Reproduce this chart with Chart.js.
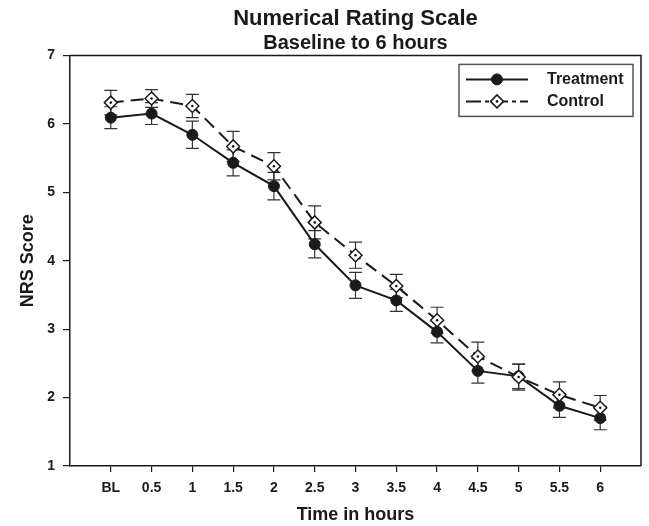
<!DOCTYPE html>
<html><head><meta charset="utf-8">
<script src="https://cdn.jsdelivr.net/npm/chart.js@4/dist/chart.umd.min.js"></script>
<style>html,body{margin:0;padding:0;background:#fff;}canvas{display:block;}</style>
</head><body>
<canvas id="c" width="649" height="526"></canvas>
<script>
const categories = ['BL','0.5','1','1.5','2','2.5','3','3.5','4','4.5','5','5.5','6'];
const treatment    = [6.09, 6.15, 5.84, 5.43, 5.09, 4.24, 3.64, 3.42, 2.96, 2.39, 2.31, 1.88, 1.70];
const treatmentErr = [0.16, 0.16, 0.20, 0.19, 0.20, 0.20, 0.19, 0.16, 0.16, 0.18, 0.18, 0.17, 0.17];
const control      = [6.31, 6.37, 6.26, 5.67, 5.38, 4.56, 4.08, 3.63, 3.13, 2.60, 2.30, 2.04, 1.85];
const controlErr   = [0.18, 0.13, 0.17, 0.22, 0.20, 0.24, 0.19, 0.17, 0.19, 0.21, 0.19, 0.19, 0.18];
const yTicks = [1, 2, 3, 4, 5, 6, 7];

const ink = '#1a1a1a';
Chart.defaults.font.family = "'Liberation Sans', Arial, Helvetica, sans-serif";
Chart.defaults.color = ink;

const errorBars = {
  id: 'errorBars',
  beforeDatasetsDraw(chart) {
    const {ctx, scales: {x, y}} = chart;
    ctx.save();
    ctx.strokeStyle = '#333';
    ctx.lineWidth = 1.2;
    chart.data.datasets.forEach(ds => {
      ds.data.forEach((p, i) => {
        const e = ds.errors[i];
        const px = x.getPixelForValue(p.x);
        const t = y.getPixelForValue(p.y + e);
        const b = y.getPixelForValue(p.y - e);
        ctx.beginPath();
        ctx.moveTo(px, t); ctx.lineTo(px, b);
        ctx.moveTo(px - 6.5, t); ctx.lineTo(px + 6.5, t);
        ctx.moveTo(px - 6.5, b); ctx.lineTo(px + 6.5, b);
        ctx.stroke();
      });
    });
    ctx.restore();
  }
};

const decorations = {
  id: 'decorations',
  afterDatasetsDraw(chart) {
    const {ctx} = chart;
    // center dots of diamond markers
    chart.data.datasets.forEach((ds, di) => {
      if (!ds.centerDot) return;
      const meta = chart.getDatasetMeta(di);
      ctx.save();
      ctx.fillStyle = ink;
      meta.data.forEach(el => {
        ctx.beginPath();
        ctx.arc(el.x, el.y, 1.3, 0, Math.PI * 2);
        ctx.fill();
      });
      ctx.restore();
    });
  },
  afterDraw(chart) {
    const {ctx, chartArea: a} = chart;
    ctx.save();
    // frame top & right
    ctx.strokeStyle = ink;
    ctx.lineWidth = 1.5;
    ctx.beginPath();
    ctx.moveTo(a.left, a.top); ctx.lineTo(a.right, a.top); ctx.lineTo(a.right, a.bottom);
    ctx.stroke();
    // legend
    const bw = 174, bh = 52;
    const bx = a.right - 8 - bw, by = a.top + 9;
    ctx.strokeStyle = '#555';
    ctx.lineWidth = 1.5;
    ctx.strokeRect(bx, by, bw, bh);
    const rows = [by + 15, by + 37];
    chart.data.datasets.forEach((ds, i) => {
      const yy = rows[i];
      const x0 = bx + 7, x1 = bx + 69, xm = bx + 38;
      ctx.strokeStyle = ds.borderColor;
      ctx.lineWidth = ds.borderWidth;
      ctx.setLineDash(ds.legendDash || []);
      ctx.beginPath();
      ctx.moveTo(x0, yy); ctx.lineTo(x1, yy);
      ctx.stroke();
      ctx.setLineDash([]);
      ctx.fillStyle = ds.pointBackgroundColor;
      ctx.strokeStyle = ds.pointBorderColor;
      ctx.lineWidth = ds.pointBorderWidth;
      ctx.beginPath();
      if (ds.pointStyle === 'rectRot') {
        const r = ds.pointRadius;
        ctx.moveTo(xm - r, yy); ctx.lineTo(xm, yy - r); ctx.lineTo(xm + r, yy); ctx.lineTo(xm, yy + r);
        ctx.closePath();
      } else {
        ctx.arc(xm, yy, ds.pointRadius, 0, Math.PI * 2);
      }
      ctx.fill(); ctx.stroke();
      if (ds.centerDot) {
        ctx.fillStyle = ink;
        ctx.beginPath(); ctx.arc(xm, yy, 1.3, 0, Math.PI * 2); ctx.fill();
      }
      ctx.fillStyle = ink;
      ctx.font = "bold 16px 'Liberation Sans', Arial, sans-serif";
      ctx.textBaseline = 'middle';
      ctx.textAlign = 'left';
      ctx.fillText(ds.label, bx + 88, yy);
    });
    ctx.restore();
  }
};

new Chart(document.getElementById('c'), {
  type: 'line',
  data: {
    datasets: [
      {
        label: 'Treatment',
        data: treatment.map((v, i) => ({x: i, y: v})),
        errors: treatmentErr,
        borderColor: ink,
        borderWidth: 2,
        pointStyle: 'circle',
        pointRadius: 5.5,
        pointBackgroundColor: ink,
        pointBorderColor: ink,
        pointBorderWidth: 1,
        tension: 0,
        order: 2
      },
      {
        label: 'Control',
        data: control.map((v, i) => ({x: i, y: v})),
        errors: controlErr,
        borderColor: ink,
        borderWidth: 2,
        borderDash: [13, 7],
        legendDash: [15, 4, 4, 4],
        pointStyle: 'rectRot',
        pointRadius: 6.5,
        pointBackgroundColor: '#fff',
        pointBorderColor: ink,
        pointBorderWidth: 1.5,
        centerDot: true,
        tension: 0,
        order: 1
      }
    ]
  },
  options: {
    responsive: false,
    animation: false,
    devicePixelRatio: 1,
    layout: {padding: {top: 0, left: 0, right: 8, bottom: 0}},
    plugins: {
      legend: {display: false},
      tooltip: {enabled: false},
      title: {
        display: true, text: 'Numerical Rating Scale', fullSize: false,
        font: {size: 22, weight: 'bold', lineHeight: 1.2}, color: ink,
        padding: {top: 6, bottom: 0}
      },
      subtitle: {
        display: true, text: 'Baseline to 6 hours', fullSize: false,
        font: {size: 20, weight: 'bold', lineHeight: 1.1}, color: ink,
        padding: {top: 0, bottom: 1}
      }
    },
    scales: {
      x: {
        type: 'linear', min: -1, max: 13,
        afterBuildTicks: s => { s.ticks = categories.map((c, i) => ({value: i})); },
        afterFit: s => { s.height = 60; },
        ticks: {
          callback: (v) => categories[v] ?? '',
          font: {size: 14, weight: 'bold'}, color: ink, padding: 8,
          maxRotation: 0, autoSkip: false
        },
        grid: {drawOnChartArea: false, drawTicks: true, tickLength: 6, color: ink, lineWidth: 1.2},
        border: {display: true, color: ink, width: 1.5},
        title: {display: true, text: 'Time in hours', font: {size: 18, weight: 'bold'}, color: ink, padding: {top: 0, bottom: 0}}
      },
      y: {
        min: 1, max: 7,
        afterBuildTicks: s => { s.ticks = yTicks.map(v => ({value: v})); },
        afterFit: s => { s.width = 70; },
        ticks: {font: {size: 14, weight: 'bold'}, color: ink, padding: 8},
        grid: {drawOnChartArea: false, drawTicks: true, tickLength: 7, color: ink, lineWidth: 1.2},
        border: {display: true, color: ink, width: 1.5},
        title: {display: true, text: 'NRS Score', font: {size: 18, weight: 'bold'}, color: ink, padding: {top: 17, bottom: 0}}
      }
    }
  },
  plugins: [errorBars, decorations]
});
</script>
</body></html>
